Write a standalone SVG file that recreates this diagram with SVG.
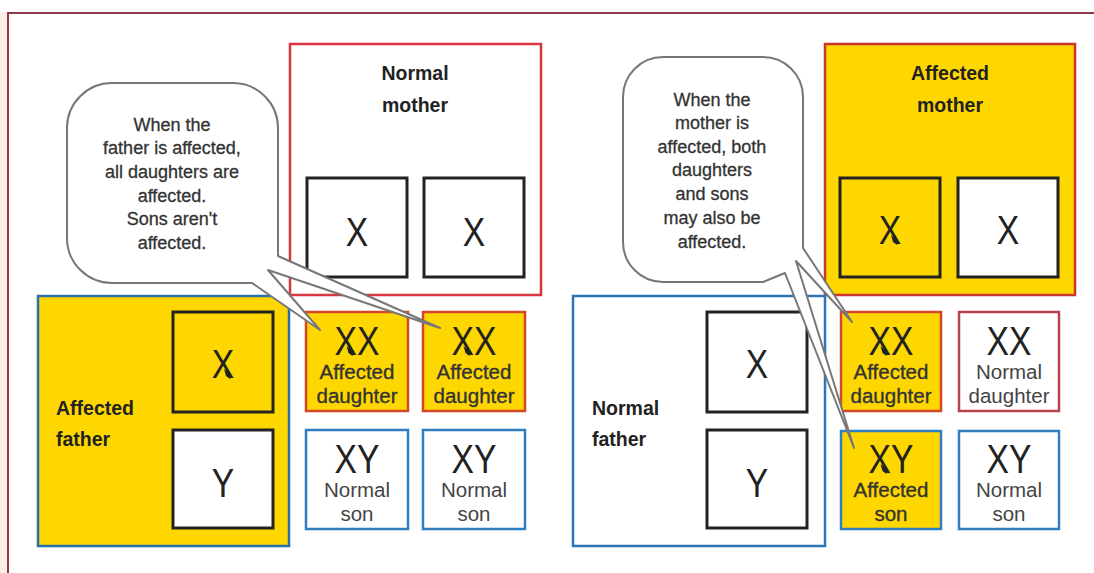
<svg xmlns="http://www.w3.org/2000/svg" xmlns:xlink="http://www.w3.org/1999/xlink" width="1094" height="573" viewBox="0 0 1094 573">
<style>
.title{font-family:"Liberation Sans",Arial,sans-serif;font-weight:bold;font-size:19.5px;fill:#222}
.chr{font-family:"Liberation Sans",Arial,sans-serif;font-size:41px;fill:#222;text-anchor:middle}
.lbl{font-family:"Liberation Sans",Arial,sans-serif;font-size:20.5px;fill:#333;stroke:#333;stroke-width:0.35;text-anchor:middle}
.nlbl{font-family:"Liberation Sans",Arial,sans-serif;font-size:20.5px;fill:#444;text-anchor:middle}
.bub{font-family:"Liberation Sans",Arial,sans-serif;font-size:18px;fill:#333;stroke:#333;stroke-width:0.3;text-anchor:middle}
.gene{stroke:#222;stroke-width:3}
.gold{fill:#ffd700}
.white{fill:#fff}
.red{stroke:#d8353f;stroke-width:2.5}
.ored{stroke:#d4462a;stroke-width:2.5}
.pred{stroke:#b84350;stroke-width:2.5}
.blue{stroke:#2f7ec0;stroke-width:2.5}
.bubble{fill:#fff;stroke:#777;stroke-width:2;stroke-linejoin:round}
</style>
<defs>
<path id="mark" d="M-3,-4 L4,2 L3,6 L-1,3 Z" fill="#222"/>
</defs>
<rect x="0" y="0" width="1094" height="573" fill="#fff"/>
<rect x="0" y="12" width="7" height="561" fill="#fdeee5"/>
<path d="M8,573 V13 H1094" fill="none" stroke="#8a3a4a" stroke-width="2"/>

<g id="normal-mother">
<rect x="290" y="44" width="251" height="251" class="white red"/>
<text class="title" x="415" y="80" text-anchor="middle">Normal</text>
<text class="title" x="415" y="112" text-anchor="middle">mother</text>
<rect x="307" y="178" width="100" height="99" class="white gene"/>
<text class="chr" transform="translate(357,246) scale(0.82,1)">X</text>
<rect x="424" y="178" width="100" height="99" class="white gene"/>
<text class="chr" transform="translate(474,246) scale(0.82,1)">X</text>
</g>

<g id="affected-father">
<rect x="38" y="296" width="251" height="250" class="gold blue" style="stroke:#2a6fa8"/>
<text class="title" x="56" y="415">Affected</text>
<text class="title" x="56" y="446">father</text>
<rect x="173" y="312" width="100" height="100" class="gold gene"/>
<text class="chr" transform="translate(223,378) scale(0.82,1)">X</text>
<use xlink:href="#mark" x="227" y="373"/>
<rect x="173" y="430" width="100" height="98" class="white gene"/>
<text class="chr" transform="translate(223,497) scale(0.82,1)">Y</text>
</g>

<g id="left-daughter-1">
<rect x="306" y="312" width="102" height="99" class="gold ored"/>
<text class="chr" transform="translate(357,355) scale(0.82,1)">XX</text>
<use xlink:href="#mark" x="349.5" y="350"/>
<text class="lbl" x="357" y="379">Affected</text>
<text class="lbl" x="357" y="403">daughter</text>
</g>
<g id="left-daughter-2">
<rect x="423" y="312" width="102" height="99" class="gold ored"/>
<text class="chr" transform="translate(474,355) scale(0.82,1)">XX</text>
<use xlink:href="#mark" x="466.5" y="350"/>
<text class="lbl" x="474" y="379">Affected</text>
<text class="lbl" x="474" y="403">daughter</text>
</g>
<g id="left-son-1">
<rect x="306" y="430" width="102" height="99" class="white blue"/>
<text class="chr" transform="translate(357,473) scale(0.82,1)">XY</text>
<text class="nlbl" x="357" y="497">Normal</text>
<text class="nlbl" x="357" y="521">son</text>
</g>
<g id="left-son-2">
<rect x="423" y="430" width="102" height="99" class="white blue"/>
<text class="chr" transform="translate(474,473) scale(0.82,1)">XY</text>
<text class="nlbl" x="474" y="497">Normal</text>
<text class="nlbl" x="474" y="521">son</text>
</g>

<g id="affected-mother">
<rect x="825" y="44" width="250" height="251" class="gold red" style="stroke:#c8372d"/>
<text class="title" x="950" y="80" text-anchor="middle">Affected</text>
<text class="title" x="950" y="112" text-anchor="middle">mother</text>
<rect x="840" y="178" width="100" height="99" class="gold gene"/>
<text class="chr" transform="translate(890,244) scale(0.82,1)">X</text>
<use xlink:href="#mark" x="894" y="239"/>
<rect x="958" y="178" width="100" height="99" class="white gene"/>
<text class="chr" transform="translate(1008,244) scale(0.82,1)">X</text>
</g>

<g id="normal-father">
<rect x="573" y="296" width="252" height="250" class="white blue" style="stroke:#2c76b8"/>
<text class="title" x="592" y="415">Normal</text>
<text class="title" x="592" y="446">father</text>
<rect x="707" y="312" width="100" height="100" class="white gene"/>
<text class="chr" transform="translate(757,378) scale(0.82,1)">X</text>
<rect x="707" y="430" width="100" height="98" class="white gene"/>
<text class="chr" transform="translate(757,497) scale(0.82,1)">Y</text>
</g>

<g id="right-daughter-affected">
<rect x="841" y="312" width="100" height="99" class="gold ored"/>
<text class="chr" transform="translate(891,355) scale(0.82,1)">XX</text>
<use xlink:href="#mark" x="883.5" y="350"/>
<text class="lbl" x="891" y="379">Affected</text>
<text class="lbl" x="891" y="403">daughter</text>
</g>
<g id="right-daughter-normal">
<rect x="959" y="312" width="100" height="99" class="white pred"/>
<text class="chr" transform="translate(1009,355) scale(0.82,1)">XX</text>
<text class="nlbl" x="1009" y="379">Normal</text>
<text class="nlbl" x="1009" y="403">daughter</text>
</g>
<g id="right-son-affected">
<rect x="841" y="431" width="100" height="98" class="gold blue"/>
<text class="chr" transform="translate(891,473) scale(0.82,1)">XY</text>
<use xlink:href="#mark" x="883.5" y="468"/>
<text class="lbl" x="891" y="497">Affected</text>
<text class="lbl" x="891" y="521">son</text>
</g>
<g id="right-son-normal">
<rect x="959" y="431" width="100" height="98" class="white blue"/>
<text class="chr" transform="translate(1009,473) scale(0.82,1)">XY</text>
<text class="nlbl" x="1009" y="497">Normal</text>
<text class="nlbl" x="1009" y="521">son</text>
</g>

<g id="connectors">
<g id="bubble-father">
<path class="bubble" d="M112,83 H233 A45,45 0 0 1 278,128 V256 L440,328 L268,270 L320,330 L252,283 H112 A45,45 0 0 1 67,238 V128 A45,45 0 0 1 112,83 Z"/>
<text class="bub" x="172" y="131">When the</text>
<text class="bub" x="172" y="154">father is affected,</text>
<text class="bub" x="172" y="178">all daughters are</text>
<text class="bub" x="172" y="202">affected.</text>
<text class="bub" x="172" y="225">Sons aren't</text>
<text class="bub" x="172" y="249">affected.</text>
</g>
<g id="bubble-mother">
<path class="bubble" d="M663,57 H763 A40,40 0 0 1 803,97 V248 L852,322 L796,261 L854,448 L785,273 L763,282 H663 A40,40 0 0 1 623,242 V97 A40,40 0 0 1 663,57 Z"/>
<text class="bub" x="712" y="106">When the</text>
<text class="bub" x="712" y="129">mother is</text>
<text class="bub" x="712" y="153">affected, both</text>
<text class="bub" x="712" y="176">daughters</text>
<text class="bub" x="712" y="200">and sons</text>
<text class="bub" x="712" y="224">may also be</text>
<text class="bub" x="712" y="248">affected.</text>
</g>
</g>
</svg>
